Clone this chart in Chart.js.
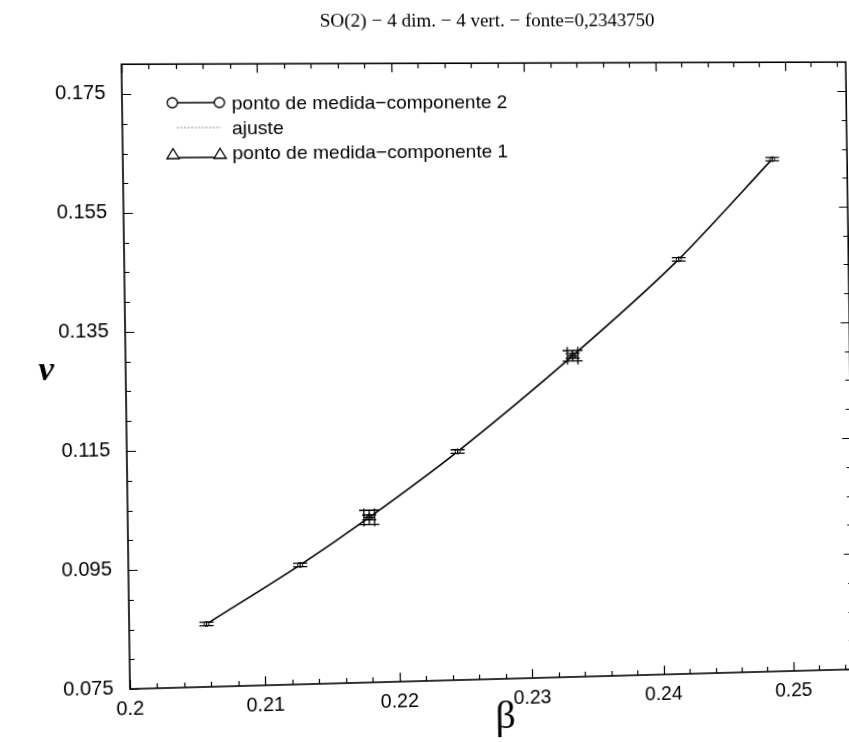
<!DOCTYPE html>
<html>
<head>
<meta charset="utf-8">
<script src="https://cdn.jsdelivr.net/npm/chart.js@4.4.1/dist/chart.umd.min.js"></script>
<style>
  html, body { margin: 0; padding: 0; background: #ffffff; overflow: hidden; }
  #wrap { width: 849px; height: 742px; position: relative; overflow: hidden; background: #ffffff; }
  #c { position: absolute; left: 0; top: 0; display: block; transform-origin: 0 0; }
</style>
</head>
<body>
<div id="wrap"><canvas id="c" width="880" height="760"></canvas></div>
<script>
// Title and axis labels
const titleText = 'SO(2) − 4 dim. − 4 vert. − fonte=0,2343750';
const xTitle = 'β';
const yTitle = 'ν';

// Tick marks
const xTickValues = [0.2, 0.21, 0.22, 0.23, 0.24, 0.25];
const xTickLabels = ['0.2', '0.21', '0.22', '0.23', '0.24', '0.25'];
const yTickValues = [0.075, 0.095, 0.115, 0.135, 0.155, 0.175];
const yTickLabels = ['0.075', '0.095', '0.115', '0.135', '0.155', '0.175'];

// Measurements, component 2 (circles)
const betaC2  = [0.2057, 0.2127, 0.2179, 0.2246, 0.2334, 0.2416, 0.2489];
const nuC2    = [0.0856, 0.0952, 0.1030, 0.1139, 0.1299, 0.1462, 0.1633];
const errNuC2 = [0.0003, 0.0003, 0.0004, 0.0003, 0.0004, 0.0003, 0.0003];

// Measurements, component 1 (triangles)
const betaC1    = [0.2179, 0.2334];
const nuC1      = [0.1030, 0.1299];
const errNuC1   = [0.0012, 0.0009];
const errBetaC1 = [0.0004, 0.0004];

// Fitted curve
const betaFit = [0.2057, 0.2127, 0.2179, 0.2246, 0.2334, 0.2416, 0.2489];
const nuFit   = [0.0856, 0.0952, 0.1030, 0.1139, 0.1299, 0.1462, 0.1633];

// Legend entries
const legendLabels = ['ponto de medida−componente 2', 'ajuste', 'ponto de medida−componente 1'];

// Skew of the printed page: tilt of the bottom and top edges, lean of the sides
const pageWarp = { bottomTilt: 0.0272, topTilt: 0.003, sideLean: 0.0136 };

const SANS = '"Liberation Sans", Arial, Helvetica, sans-serif';
const SERIF = '"Liberation Serif", "Times New Roman", serif';

const toPoints = (xs, ys) => xs.map((x, i) => ({ x: x, y: ys[i] }));

// Error bars drawn through the chart scales
const errorBars = {
  id: 'errorBars',
  afterDatasetsDraw(chart) {
    const { ctx, scales: { x, y } } = chart;
    ctx.save();
    ctx.strokeStyle = '#000';
    ctx.lineWidth = 1.3;
    chart.data.datasets.forEach(ds => {
      if (!ds.errY && !ds.errX) return;
      ds.data.forEach((p, i) => {
        const px = x.getPixelForValue(p.x);
        const py = y.getPixelForValue(p.y);
        if (ds.errY) {
          const y1 = y.getPixelForValue(p.y - ds.errY[i]);
          const y2 = y.getPixelForValue(p.y + ds.errY[i]);
          const w = ds.capY;
          ctx.beginPath();
          ctx.moveTo(px, y1); ctx.lineTo(px, y2);
          ctx.moveTo(px - w, y1); ctx.lineTo(px + w, y1);
          ctx.moveTo(px - w, y2); ctx.lineTo(px + w, y2);
          ctx.stroke();
        }
        if (ds.errX) {
          const x1 = x.getPixelForValue(p.x - ds.errX[i]);
          const x2 = x.getPixelForValue(p.x + ds.errX[i]);
          const h = ds.capX;
          ctx.beginPath();
          ctx.moveTo(x1, py); ctx.lineTo(x2, py);
          ctx.moveTo(x1, py - h); ctx.lineTo(x1, py + h);
          ctx.moveTo(x2, py - h); ctx.lineTo(x2, py + h);
          ctx.stroke();
        }
      });
    });
    ctx.restore();
  }
};

// Box frame with inward ticks on all four sides, axis letters and legend
const frameTicks = {
  id: 'frameTicks',
  afterDraw(chart) {
    const { ctx, chartArea: a, scales: { x, y } } = chart;
    ctx.save();
    ctx.strokeStyle = '#000';
    ctx.lineWidth = 1.6;
    ctx.strokeRect(a.left, a.top, a.right - a.left, a.bottom - a.top);
    ctx.lineWidth = 1.2;
    ctx.beginPath();
    for (let k = 0; ; k++) {
      const v = x.min + k * 0.002;
      if (v > x.max + 1e-9) break;
      const major = xTickValues.some(t => Math.abs(t - v) < 1e-6);
      const len = major ? 9 : 5;
      const px = Math.round(x.getPixelForValue(v)) + 0.5;
      ctx.moveTo(px, a.bottom); ctx.lineTo(px, a.bottom - len);
      ctx.moveTo(px, a.top); ctx.lineTo(px, a.top + len);
    }
    for (let k = 0; ; k++) {
      const v = y.min + k * 0.005;
      if (v > y.max + 1e-9) break;
      const major = yTickValues.some(t => Math.abs(t - v) < 1e-6);
      const len = major ? 9 : 5;
      const py = Math.round(y.getPixelForValue(v)) + 0.5;
      ctx.moveTo(a.left, py); ctx.lineTo(a.left + len, py);
      ctx.moveTo(a.right, py); ctx.lineTo(a.right - len, py);
    }
    ctx.stroke();

    ctx.fillStyle = '#000';
    ctx.textAlign = 'center';
    ctx.textBaseline = 'middle';
    // ν axis letter, upright
    ctx.font = 'italic bold 34px ' + SERIF;
    ctx.fillText(yTitle, 53, 370);
    // β axis letter
    ctx.font = '40px ' + SERIF;
    ctx.fillText(xTitle, 500, 728);

    // Legend
    const ds = chart.data.datasets;
    const lx1 = 179, lx2 = 225, tx = 237;
    const rows = [103, 128, 155];
    const textRows = [105, 130, 155];
    ctx.font = '19px ' + SANS;
    ctx.textAlign = 'left';
    legendLabels.forEach((lab, i) => ctx.fillText(lab, tx, textRows[i]));

    // row 1: circles joined by a line
    ctx.strokeStyle = '#000';
    ctx.lineWidth = 1.3;
    ctx.beginPath(); ctx.moveTo(lx1 + 5, rows[0]); ctx.lineTo(lx2 - 5, rows[0]); ctx.stroke();
    [lx1, lx2].forEach(cx => {
      ctx.beginPath(); ctx.arc(cx, rows[0], 5, 0, Math.PI * 2);
      ctx.fillStyle = '#fff'; ctx.fill(); ctx.stroke();
    });
    // row 2: dotted fit line
    ctx.save();
    ctx.strokeStyle = ds[0].borderColor;
    ctx.lineWidth = 1;
    ctx.setLineDash([2, 1.5]);
    ctx.beginPath(); ctx.moveTo(lx1 + 4, rows[1]); ctx.lineTo(lx2 + 1, rows[1]); ctx.stroke();
    ctx.restore();
    // row 3: triangles joined by a line
    ctx.strokeStyle = '#000';
    ctx.lineWidth = 1.3;
    ctx.beginPath(); ctx.moveTo(lx1 + 6, rows[2] + 3); ctx.lineTo(lx2 - 6, rows[2] + 3); ctx.stroke();
    [lx1, lx2].forEach(cx => {
      ctx.beginPath();
      ctx.moveTo(cx, rows[2] - 6);
      ctx.lineTo(cx + 6, rows[2] + 4);
      ctx.lineTo(cx - 6, rows[2] + 4);
      ctx.closePath();
      ctx.fillStyle = '#fff'; ctx.fill(); ctx.stroke();
    });
    ctx.restore();
  }
};

const chart = new Chart(document.getElementById('c'), {
  type: 'scatter',
  data: {
    datasets: [
      {
        label: legendLabels[1],
        data: toPoints(betaFit, nuFit),
        showLine: true,
        tension: 0.25,
        borderColor: '#8a8a8a',
        borderWidth: 1,
        borderDash: [2, 1.5],
        pointRadius: 0,
        order: 3
      },
      {
        label: legendLabels[0],
        data: toPoints(betaC2, nuC2),
        showLine: true,
        tension: 0.25,
        borderColor: '#000',
        borderWidth: 1.6,
        pointStyle: 'circle',
        pointRadius: 2.5,
        pointBorderWidth: 1,
        pointBackgroundColor: '#fff',
        pointBorderColor: '#000',
        errY: errNuC2,
        capY: 7,
        order: 2
      },
      {
        label: legendLabels[2],
        data: toPoints(betaC1, nuC1),
        showLine: false,
        pointStyle: 'triangle',
        pointRadius: 4,
        pointBorderWidth: 1,
        pointBackgroundColor: 'rgba(255,255,255,0)',
        pointBorderColor: '#000',
        errY: errNuC1,
        capY: 10,
        errX: errBetaC1,
        capX: 9,
        order: 1
      }
    ]
  },
  options: {
    responsive: false,
    animation: false,
    events: [],
    layout: { padding: { top: 0, right: 25.8, bottom: 0, left: 0 } },
    plugins: {
      legend: { display: false },
      tooltip: { enabled: false },
      title: {
        display: true,
        text: titleText,
        fullSize: false,
        color: '#000',
        font: { family: SERIF, size: 19, weight: 'normal' },
        padding: { top: 11, bottom: 30.45 }
      }
    },
    scales: {
      x: {
        type: 'linear',
        min: 0.2,
        max: 0.2547,
        afterBuildTicks: s => { s.ticks = xTickValues.map(v => ({ value: v })); },
        afterFit: s => { s.height = 71; },
        grid: { display: false, drawTicks: false },
        border: { display: false },
        ticks: {
          color: '#000',
          padding: 9,
          maxRotation: 0,
          font: { family: SANS, size: 19.5 },
          callback: (v, i) => xTickLabels[i]
        }
      },
      y: {
        type: 'linear',
        min: 0.075,
        max: 0.18,
        afterBuildTicks: s => { s.ticks = yTickValues.map(v => ({ value: v })); },
        afterFit: s => { s.width = 130; },
        grid: { display: false, drawTicks: false },
        border: { display: false },
        ticks: {
          color: '#000',
          padding: 16,
          font: { family: SANS, size: 19.5 },
          callback: (v, i) => yTickLabels[i]
        }
      }
    }
  },
  plugins: [errorBars, frameTicks]
});

// Projective mapping of the plot frame onto the skewed page
function solveHomography(src, dst) {
  const A = [];
  for (let i = 0; i < 4; i++) {
    const [x, y] = src[i], [u, v] = dst[i];
    A.push([x, y, 1, 0, 0, 0, -u * x, -u * y, u]);
    A.push([0, 0, 0, x, y, 1, -v * x, -v * y, v]);
  }
  const n = 8;
  for (let c = 0; c < n; c++) {
    let p = c;
    for (let r = c + 1; r < n; r++) if (Math.abs(A[r][c]) > Math.abs(A[p][c])) p = r;
    [A[c], A[p]] = [A[p], A[c]];
    for (let r = 0; r < n; r++) {
      if (r === c) continue;
      const f = A[r][c] / A[c][c];
      for (let k = c; k <= n; k++) A[r][k] -= f * A[c][k];
    }
  }
  return A.map((row, i) => row[n] / row[i]);
}

const ca = chart.chartArea;
const w = ca.right - ca.left, h = ca.bottom - ca.top;
const src = [[ca.left, ca.top], [ca.right, ca.top], [ca.right, ca.bottom], [ca.left, ca.bottom]];
const dst = [
  [ca.left - pageWarp.sideLean * h, ca.top],
  [ca.right - pageWarp.sideLean * h, ca.top - pageWarp.topTilt * w],
  [ca.right, ca.bottom - pageWarp.bottomTilt * w],
  [ca.left, ca.bottom]
];
const H = solveHomography(src, dst);
document.getElementById('c').style.transform =
  `matrix3d(${H[0]},${H[3]},0,${H[6]},${H[1]},${H[4]},0,${H[7]},0,0,1,0,${H[2]},${H[5]},0,1)`;
</script>
</body>
</html>
